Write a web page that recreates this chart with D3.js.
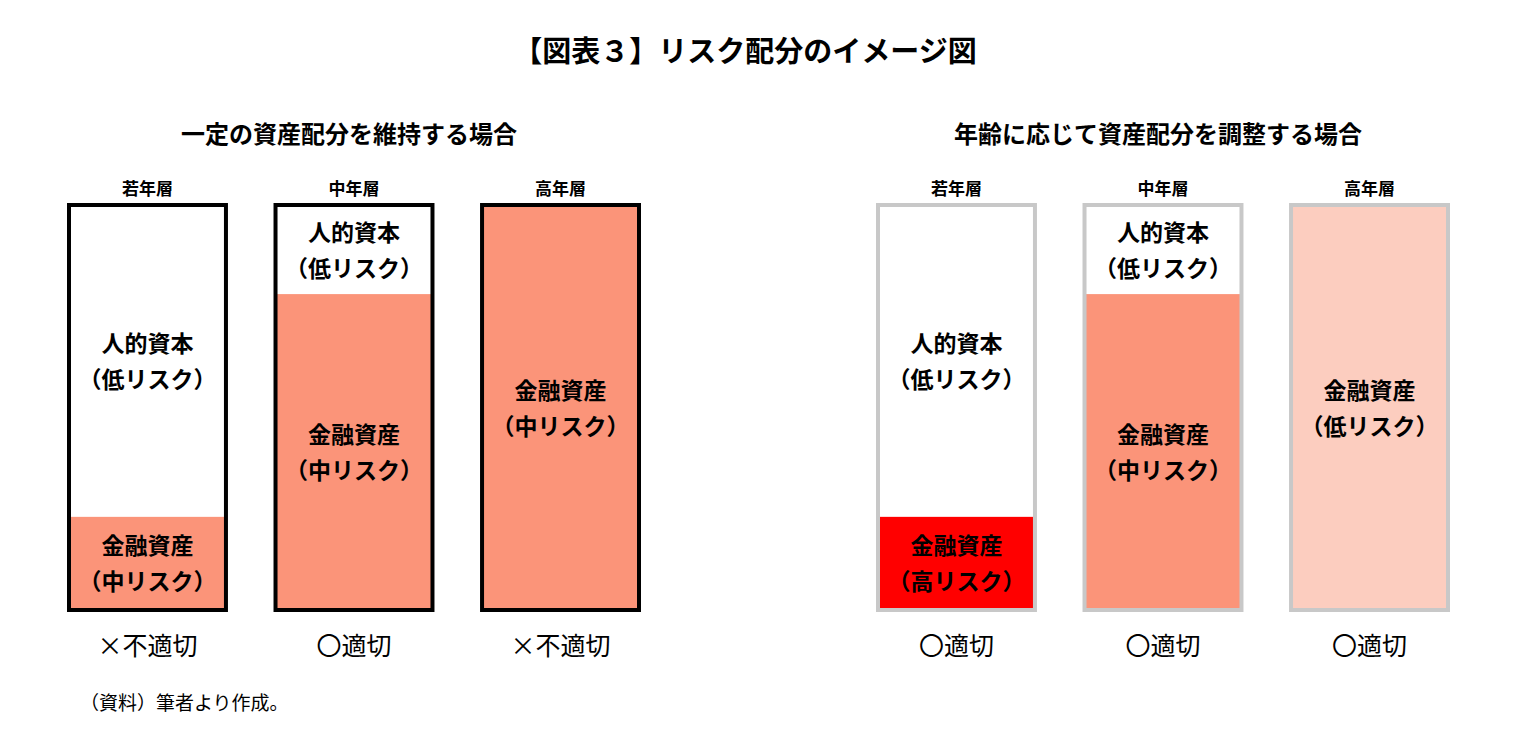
<!DOCTYPE html>
<html><head><meta charset="utf-8">
<script src="https://cdn.jsdelivr.net/npm/d3@7"></script>
<style>body{margin:0;background:#fff}text{font-family:"Noto Sans CJK JP",sans-serif}</style>
</head><body><svg id="c" width="1525" height="743"></svg>
<script>
// Data
const groups = ['一定の資産配分を維持する場合', '年齢に応じて資産配分を調整する場合'];
const ages = ['若年層', '中年層', '高年層'];
// share of financial assets per bar (0..1)
const financialShare = [[0.23, 0.78, 1.0], [0.23, 0.78, 1.0]];
const financialRisk = [['中リスク', '中リスク', '中リスク'], ['高リスク', '中リスク', '低リスク']];
const financialColor = [['#fb9479', '#fb9479', '#fb9479'], ['#ff0000', '#fb9479', '#fccdbf']];
const verdicts = [['×不適切', '〇適切', '×不適切'], ['〇適切', '〇適切', '〇適切']];

const svg = d3.select('#c');
svg.append('text').attr('x', 745).attr('y', 62).attr('text-anchor', 'middle')
  .attr('font-size', 29).attr('font-weight', 700).text('【図表３】リスク配分のイメージ図');

const groupX = [69, 878], groupW = 570;
const y = d3.scaleLinear().domain([0, 1]).range([610, 205]);

groups.forEach((g, gi) => {
  const x = d3.scaleBand().domain(ages).range([groupX[gi], groupX[gi] + groupW]).paddingInner(0.24);
  svg.append('text').attr('x', groupX[gi] + groupW / 2 - 5).attr('y', 143).attr('text-anchor', 'middle')
    .attr('font-size', 24).attr('font-weight', 700).text(g);
  const stroke = gi === 0 ? '#000' : '#c8c8c8';
  ages.forEach((a, i) => {
    const bx = x(a), bw = x.bandwidth(), s = financialShare[gi][i];
    const cx = bx + bw / 2;
    svg.append('text').attr('x', cx).attr('y', 195).attr('text-anchor', 'middle')
      .attr('font-size', 17).attr('font-weight', 700).text(a);
    svg.append('rect').attr('x', bx).attr('y', y(s)).attr('width', bw).attr('height', y(0) - y(s))
      .attr('fill', financialColor[gi][i]);
    svg.append('rect').attr('x', bx).attr('y', y(1)).attr('width', bw).attr('height', y(0) - y(1))
      .attr('fill', 'none').attr('stroke', stroke).attr('stroke-width', 4);
    const label = (lines, cy) => lines.forEach((t, k) => svg.append('text').attr('x', cx)
      .attr('y', cy + (k - 0.5) * 36 + 9).attr('text-anchor', 'middle')
      .attr('font-size', 23).attr('font-weight', 700).text(t));
    if (s < 1) label(['人的資本', '（低リスク）'], (y(1) + y(s)) / 2);
    label(['金融資産', '（' + financialRisk[gi][i] + '）'], (y(s) + y(0)) / 2);
    svg.append('text').attr('x', cx).attr('y', 655).attr('text-anchor', 'middle')
      .attr('font-size', 25).text(verdicts[gi][i]);
  });
});
svg.append('text').attr('x', 80).attr('y', 710).attr('font-size', 19).text('（資料）筆者より作成。');
</script></body></html>
